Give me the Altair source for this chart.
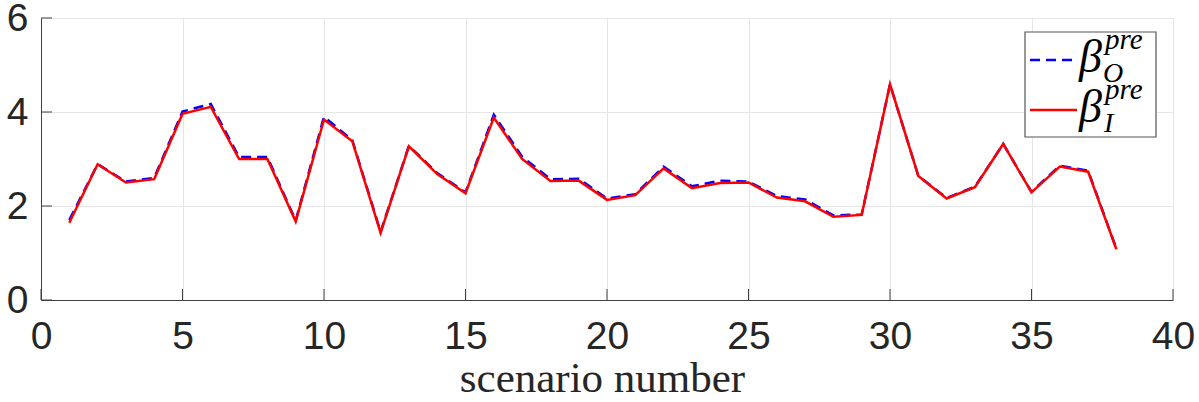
import altair as alt
import pandas as pd

# scenario index and the two estimates per scenario
scenario = list(range(1, 39))
beta_O = [1.70, 2.89, 2.52, 2.60, 4.01, 4.17, 3.04, 3.04, 1.69, 3.90,
          3.40, 1.45, 3.28, 2.70, 2.29, 3.94, 3.05, 2.57, 2.58, 2.16,
          2.25, 2.84, 2.42, 2.54, 2.52, 2.21, 2.14, 1.80, 1.82, 4.59,
          2.64, 2.17, 2.41, 3.32, 2.30, 2.86, 2.75, 1.09]
beta_I = [1.645, 2.887, 2.50, 2.57, 3.96, 4.11, 3.00, 3.00, 1.67, 3.84,
          3.38, 1.43, 3.27, 2.68, 2.27, 3.88, 3.00, 2.53, 2.54, 2.13,
          2.23, 2.80, 2.38, 2.49, 2.50, 2.18, 2.10, 1.77, 1.81, 4.59,
          2.64, 2.16, 2.40, 3.32, 2.29, 2.84, 2.73, 1.08]

x_ticks = [0, 5, 10, 15, 20, 25, 30, 35, 40]
y_ticks = [0, 2, 4, 6]

W, H = 1132, 282
AXIS_COLOR = "#404040"
LABEL_COLOR = "#262626"
TICK_LEN = 11

df_O = pd.DataFrame({"scenario": scenario, "beta": beta_O})
df_I = pd.DataFrame({"scenario": scenario, "beta": beta_I})

x_scale = alt.Scale(domain=[0, 40], nice=False)
y_scale = alt.Scale(domain=[0, 6], nice=False)

x_axis = alt.Axis(values=x_ticks, title="scenario number", grid=True,
                  ticks=False, labelPadding=17, labelFontSize=39,
                  labelFont="Liberation Sans", labelColor=LABEL_COLOR,
                  titleFont="Liberation Serif", titleFontSize=43,
                  titleFontWeight="normal", titleColor=LABEL_COLOR,
                  titleBaseline="alphabetic", titleY=91, titleX=561,
                  domainColor=AXIS_COLOR, gridColor="#e6e6e6",
                  labelFlush=False)
y_axis = alt.Axis(values=y_ticks, title=None, grid=True, ticks=False,
                  labelPadding=13, labelFontSize=39,
                  labelFont="Liberation Sans", labelColor=LABEL_COLOR,
                  domainColor=AXIS_COLOR, gridColor="#e6e6e6",
                  labelFlush=False)

line_O = alt.Chart(df_O).mark_line(
    color="#0000ff", strokeWidth=2.5, strokeDash=[10, 6]
).encode(
    x=alt.X("scenario:Q", scale=x_scale, axis=x_axis),
    y=alt.Y("beta:Q", scale=y_scale, axis=y_axis),
)

line_I = alt.Chart(df_I).mark_line(
    color="#ff0000", strokeWidth=2.5
).encode(
    x=alt.X("scenario:Q", scale=x_scale),
    y=alt.Y("beta:Q", scale=y_scale),
)

# inward-pointing tick marks
xt = alt.Chart(pd.DataFrame({"t": x_ticks})).mark_rule(
    color=AXIS_COLOR, strokeWidth=1
).encode(
    x=alt.X("t:Q", scale=x_scale),
    y=alt.value(H), y2=alt.value(H - TICK_LEN),
)
yt = alt.Chart(pd.DataFrame({"t": y_ticks})).mark_rule(
    color=AXIS_COLOR, strokeWidth=1
).encode(
    y=alt.Y("t:Q", scale=y_scale),
    x=alt.value(0), x2=alt.value(TICK_LEN),
)

# legend box with sample lines and labels
one = alt.Data(values=[{}])
box = alt.Chart(one).mark_rect(
    fill="white", stroke="#555555", strokeWidth=1.2
).encode(x=alt.value(984), x2=alt.value(1115), y=alt.value(14), y2=alt.value(119))

leg_O = alt.Chart(one).mark_rule(
    color="#0000ff", strokeWidth=2.5, strokeDash=[10, 6]
).encode(x=alt.value(989), x2=alt.value(1036), y=alt.value(42))
leg_I = alt.Chart(one).mark_rule(
    color="#ff0000", strokeWidth=2.5
).encode(x=alt.value(989), x2=alt.value(1036), y=alt.value(92))


def txt(s, x, y, size):
    return alt.Chart(one).mark_text(
        text=s, font="Liberation Serif", fontStyle="italic", fontSize=size,
        align="left", baseline="alphabetic", color="black"
    ).encode(x=alt.value(x), y=alt.value(y))


legend = [
    box, leg_O, leg_I,
    txt("β", 1038, 53.5, 46), txt("pre", 1064, 30.5, 29), txt("O", 1062, 63.5, 28),
    txt("β", 1038, 103.5, 46), txt("pre", 1064, 80.5, 29), txt("I", 1063, 113.5, 28),
]

chart = alt.layer(line_O, line_I, xt, yt, *legend).properties(
    width=W, height=H,
    autosize=alt.AutoSizeParams(type="none"),
    padding={"left": 41, "top": 18, "right": 26, "bottom": 102},
).configure_view(stroke=None).configure(background="white")

chart.save("out.html", embed_options={"renderer": "svg", "actions": False})
